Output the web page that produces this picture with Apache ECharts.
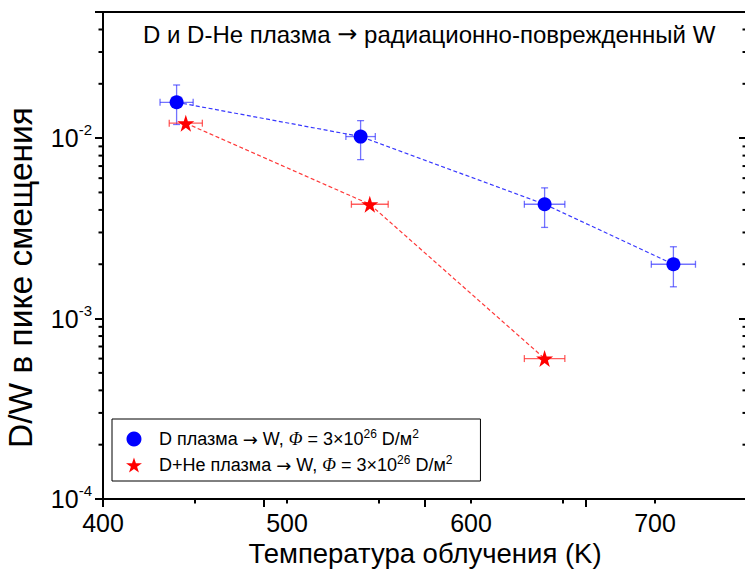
<!DOCTYPE html>
<html>
<head>
<meta charset="utf-8">
<script src="https://cdn.jsdelivr.net/npm/echarts@6/dist/echarts.min.js"></script>
<style>
  html, body { margin: 0; padding: 0; background: #fff; overflow: hidden; }
  #chart { width: 748px; height: 571px; }
</style>
</head>
<body>
<div id="chart"></div>
<script>
// D plasma -> W : irradiation temperature (K) and D/W at the displacement peak
const blueT = [440, 540, 640, 710];
const blueRatio = [0.0158, 0.0102, 0.0043, 0.0020];
const blueTErr = [9, 8, 11, 12];
const blueRatioLow = [0.0119, 0.0076, 0.0032, 0.0015];
const blueRatioHigh = [0.0197, 0.0125, 0.0053, 0.0025];

// D+He plasma -> W
const redT = [445, 545, 640];
const redRatio = [0.0121, 0.0043, 0.0006];
const redTErr = [9, 10, 11];

// axis ticks
const xMajorTicks = [400, 500, 600, 700];
const yMinorTicks = [
  2e-4, 3e-4, 4e-4, 5e-4, 6e-4, 7e-4, 8e-4, 9e-4,
  2e-3, 3e-3, 4e-3, 5e-3, 6e-3, 7e-3, 8e-3, 9e-3,
  2e-2, 3e-2, 4e-2
];

const NAME_D = 'D плазма → W';
const NAME_DHE = 'D+He плазма → W';
const legendText = {};
legendText[NAME_D] = 'D плазма {a|→} W, {i|Φ} = 3×10{s|26} D/м{s|2}';
legendText[NAME_DHE] = 'D+He плазма {a|→} W, {i|Φ} = 3×10{s|26} D/м{s|2}';

const FONT = 'Liberation Sans, Arial, Helvetica, sans-serif';
const SERIF = 'Liberation Serif, Times New Roman, serif';
const SYM = 'DejaVu Sans, sans-serif';
const BLUE = '#0000ff';
const RED = '#ff0000';
const STAR = 'path://M50,0 L61.8,35.1 L98.9,35.1 L68.9,56.9 L80.3,91.9 L50,70.2 L19.7,91.9 L31.1,56.9 L1.1,35.1 L38.2,35.1 Z';

function errorBars(xs, ys, xErr, yLow, yHigh, color) {
  return {
    type: 'custom',
    xAxisIndex: 0,
    yAxisIndex: 0,
    clip: false,
    silent: true,
    z: 2,
    data: xs.map((x, i) => [x, ys[i], xErr[i],
      yLow ? yLow[i] : ys[i], yHigh ? yHigh[i] : ys[i]]),
    encode: { x: 0, y: 1 },
    renderItem(params, api) {
      const x = api.value(0), y = api.value(1), dx = api.value(2);
      const lo = api.value(3), hi = api.value(4);
      const c = api.coord([x, y]);
      const l = api.coord([x - dx, y]);
      const r = api.coord([x + dx, y]);
      const cap = 3.5;
      const style = { stroke: color, lineWidth: 1.3, fill: null };
      const ch = [
        { type: 'line', shape: { x1: l[0], y1: c[1], x2: r[0], y2: c[1] }, style },
        { type: 'line', shape: { x1: l[0], y1: c[1] - cap, x2: l[0], y2: c[1] + cap }, style },
        { type: 'line', shape: { x1: r[0], y1: c[1] - cap, x2: r[0], y2: c[1] + cap }, style }
      ];
      if (hi > y || lo < y) {
        const t = api.coord([x, hi]);
        const b = api.coord([x, lo]);
        ch.push(
          { type: 'line', shape: { x1: c[0], y1: t[1], x2: c[0], y2: b[1] }, style },
          { type: 'line', shape: { x1: c[0] - cap, y1: t[1], x2: c[0] + cap, y2: t[1] }, style },
          { type: 'line', shape: { x1: c[0] - cap, y1: b[1], x2: c[0] + cap, y2: b[1] }, style }
        );
      }
      return { type: 'group', children: ch };
    }
  };
}

// minor ticks of the logarithmic axis: outward on the left, inward on the right
const minorTickSeries = {
  type: 'custom',
  xAxisIndex: 0,
  yAxisIndex: 0,
  clip: false,
  silent: true,
  z: 5,
  data: yMinorTicks.map(v => [400, v]),
  encode: { x: 0, y: 1 },
  renderItem(params, api) {
    const p = api.coord([api.value(0), api.value(1)]);
    const left = params.coordSys.x;
    const right = params.coordSys.x + params.coordSys.width;
    const style = { stroke: '#000', lineWidth: 2 };
    return {
      type: 'group',
      children: [
        { type: 'line', shape: { x1: left - 4.5, y1: p[1], x2: left, y2: p[1] }, style },
        { type: 'line', shape: { x1: right - 4.5, y1: p[1], x2: right, y2: p[1] }, style }
      ]
    };
  }
};

const chart = echarts.init(document.getElementById('chart'), null, { renderer: 'svg' });
chart.setOption({
  animation: false,
  backgroundColor: '#fff',
  title: {
    text: 'D и D-He плазма {a|→} радиационно-поврежденный W',
    left: 138,
    top: 17,
    textStyle: {
      fontFamily: FONT, fontSize: 24, fontWeight: 'normal', color: '#000',
      rich: { a: { fontFamily: SYM, fontSize: 24, color: '#000' } }
    }
  },
  grid: {
    left: 103, right: 1, top: 12, bottom: 72,
    outerBoundsMode: 'none',
    containLabel: false,
    show: true, borderColor: '#000', borderWidth: 2
  },
  legend: {
    left: 112,
    top: 419,
    orient: 'vertical',
    borderColor: '#000',
    borderWidth: 1,
    borderRadius: 0,
    padding: [9, 28, 7, 14],
    itemGap: 6,
    itemWidth: 40,
    itemHeight: 15,
    data: [{ name: NAME_D, icon: 'circle' }, { name: NAME_DHE, icon: STAR }],
    formatter: n => legendText[n],
    textStyle: {
      fontFamily: FONT, fontSize: 18, color: '#000',
      rich: {
        a: { fontFamily: SYM, fontSize: 18, color: '#000' },
        i: { fontFamily: SERIF, fontStyle: 'italic', fontSize: 18, color: '#000' },
        s: { fontSize: 12, fontFamily: FONT, color: '#000', padding: [0, 0, 10, 0] }
      }
    }
  },
  xAxis: [
    {
      type: 'value', position: 'bottom',
      min: 400, max: 750, interval: 50,
      name: 'Температура облучения (K)',
      nameLocation: 'middle', nameGap: 40,
      nameTextStyle: { fontFamily: FONT, fontSize: 27.5, color: '#000' },
      axisLine: { show: true, lineStyle: { color: '#000', width: 2 } },
      axisTick: { show: true, inside: false, length: 4.5, lineStyle: { color: '#000', width: 2 } },
      axisLabel: {
        fontFamily: FONT, fontSize: 25, color: '#000', margin: 11,
        showMaxLabel: false,
        formatter: v => (xMajorTicks.indexOf(v) >= 0 ? String(v) : '')
      },
      splitLine: { show: false }
    },
    {
      type: 'value', position: 'bottom',
      min: 400, max: 800, interval: 100,
      axisLine: { show: false },
      axisTick: { show: true, inside: false, length: 8, lineStyle: { color: '#000', width: 2 } },
      axisLabel: { show: false },
      splitLine: { show: false }
    }
  ],
  yAxis: [
    {
      type: 'log', logBase: 10, position: 'left',
      min: 1e-4, max: 0.05,
      name: 'D/W в пике смещения',
      nameLocation: 'middle', nameGap: 66,
      nameTextStyle: { fontFamily: FONT, fontSize: 33.5, color: '#000', padding: [0, 44, 0, 0] },
      axisLine: { show: true, lineStyle: { color: '#000', width: 2 } },
      axisTick: { show: true, inside: false, length: 8, lineStyle: { color: '#000', width: 2 } },
      axisLabel: {
        fontFamily: FONT, fontSize: 25, color: '#000', margin: 11,
        formatter: v => {
          const e = Math.log10(v);
          if (Math.abs(e - Math.round(e)) > 1e-6) return '';
          return '10{s|' + Math.round(e) + '}';
        },
        rich: { s: { fontSize: 15, fontFamily: FONT, color: '#000', padding: [0, 0, 17, 0] } }
      },
      splitLine: { show: false }
    },
    {
      type: 'log', logBase: 10, position: 'right',
      min: 1e-4, max: 0.05,
      axisLine: { show: false },
      axisTick: { show: true, inside: true, length: 8, lineStyle: { color: '#000', width: 2 } },
      axisLabel: { show: false },
      splitLine: { show: false }
    }
  ],
  series: [
    minorTickSeries,
    errorBars(blueT, blueRatio, blueTErr, blueRatioLow, blueRatioHigh, 'rgba(40,40,255,0.65)'),
    errorBars(redT, redRatio, redTErr, null, null, 'rgba(255,40,40,0.75)'),
    {
      name: NAME_D,
      type: 'line',
      xAxisIndex: 0, yAxisIndex: 0,
      z: 3,
      data: blueT.map((t, i) => [t, blueRatio[i]]),
      symbol: 'circle', symbolSize: 14,
      itemStyle: { color: BLUE },
      lineStyle: { color: '#3838ff', width: 1.2, type: [4, 2.5] }
    },
    {
      name: NAME_DHE,
      type: 'line',
      xAxisIndex: 0, yAxisIndex: 0,
      z: 3,
      data: redT.map((t, i) => [t, redRatio[i]]),
      symbol: STAR, symbolSize: 17,
      itemStyle: { color: RED },
      lineStyle: { color: '#ff3838', width: 1.2, type: [4, 2.5] }
    }
  ]
});
</script>
</body>
</html>
